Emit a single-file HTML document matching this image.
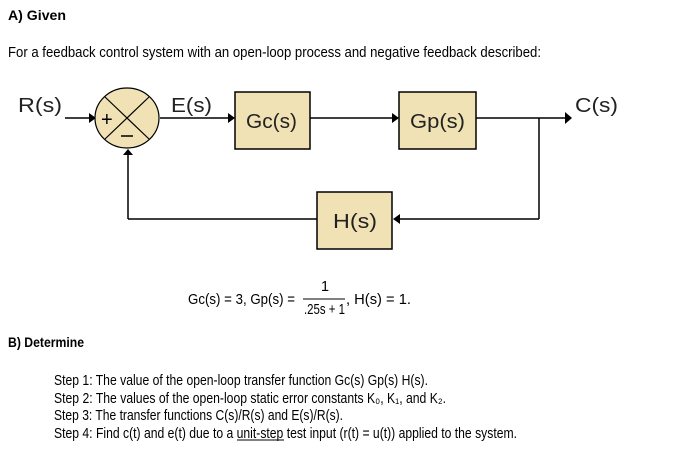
<!DOCTYPE html>
<html><head><meta charset="utf-8"><style>
html,body{margin:0;padding:0;background:#fff;width:681px;height:457px;overflow:hidden}
svg{display:block}
</style></head><body>
<svg width="681" height="457" viewBox="0 0 681 457" xmlns="http://www.w3.org/2000/svg" font-family="Liberation Sans, Arial, sans-serif">
<text x="8" y="20" font-size="13.5" font-weight="bold" textLength="58" lengthAdjust="spacingAndGlyphs">A) Given</text>
<text x="8" y="57" font-size="14.5" textLength="533" lengthAdjust="spacingAndGlyphs">For a feedback control system with an open-loop process and negative feedback described:</text>

<g stroke="#000" stroke-width="1.5" fill="none">
<line x1="65" y1="118" x2="94" y2="118"/>
<line x1="160" y1="118" x2="233" y2="118"/>
<line x1="310" y1="118" x2="397" y2="118"/>
<line x1="476" y1="118" x2="566" y2="118"/>
<line x1="539" y1="118" x2="539" y2="219"/>
<line x1="539" y1="219" x2="396" y2="219"/>
<line x1="317" y1="219" x2="128" y2="219"/>
<line x1="128" y1="219" x2="128" y2="152"/>
</g>
<g fill="#000">
<polygon points="96,118 89,113 89,123"/>
<polygon points="235,118 228,113 228,123"/>
<polygon points="399,118 392,113 392,123"/>
<polygon points="572,118 565,112 565,124"/>
<polygon points="393,219 400,214 400,224"/>
<polygon points="128,149 123,155 133,155"/>
</g>
<ellipse cx="127" cy="118" rx="32" ry="30" fill="#f0e2b4" stroke="#000" stroke-width="1.2"/>
<line x1="105" y1="97" x2="149" y2="139" stroke="#000" stroke-width="1.2"/>
<line x1="149" y1="97" x2="105" y2="139" stroke="#000" stroke-width="1.2"/>
<text x="101" y="126" font-size="20">+</text>
<line x1="121" y1="136" x2="133" y2="136" stroke="#000" stroke-width="1.5"/>

<rect x="235" y="92" width="75" height="57" fill="#f0e2b4" stroke="#000" stroke-width="1.5"/>
<rect x="399" y="92" width="77" height="57" fill="#f0e2b4" stroke="#000" stroke-width="1.5"/>
<rect x="317" y="192" width="75" height="57" fill="#f0e2b4" stroke="#000" stroke-width="1.5"/>
<g font-size="20" fill="#222">
<text x="18" y="112" textLength="44" lengthAdjust="spacingAndGlyphs">R(s)</text>
<text x="171" y="112" textLength="41" lengthAdjust="spacingAndGlyphs">E(s)</text>
<text x="575" y="112" textLength="43" lengthAdjust="spacingAndGlyphs">C(s)</text>
<text x="246" y="128" textLength="51" lengthAdjust="spacingAndGlyphs">Gc(s)</text>
<text x="410" y="128" textLength="55" lengthAdjust="spacingAndGlyphs">Gp(s)</text>
<text x="333" y="228" textLength="44" lengthAdjust="spacingAndGlyphs">H(s)</text>
</g>

<g font-size="14.5">
<text x="188" y="304" textLength="107" lengthAdjust="spacingAndGlyphs">Gc(s) = 3,  Gp(s) =</text>
<text x="321" y="291">1</text>
<line x1="303" y1="299" x2="345" y2="299" stroke="#000" stroke-width="1"/>
<text x="304" y="314" textLength="41" lengthAdjust="spacingAndGlyphs">.25s + 1</text>
<text x="346" y="304" textLength="65" lengthAdjust="spacingAndGlyphs">,  H(s) = 1.</text>
</g>
<text x="8" y="347" font-size="13.5" font-weight="bold" textLength="76" lengthAdjust="spacingAndGlyphs">B) Determine</text>
<g font-size="14.5">
<text x="54" y="385" textLength="374" lengthAdjust="spacingAndGlyphs">Step 1: The value of the open-loop transfer function Gc(s) Gp(s) H(s).</text>
<text x="54" y="403" textLength="392" lengthAdjust="spacingAndGlyphs">Step 2: The values of the open-loop static error constants K₀, K₁, and K₂.</text>
<text x="54" y="420" textLength="289" lengthAdjust="spacingAndGlyphs">Step 3: The transfer functions C(s)/R(s) and E(s)/R(s).</text>
<text x="54" y="438" textLength="463" lengthAdjust="spacingAndGlyphs">Step 4: Find c(t) and e(t) due to a unit-step test input (r(t) = u(t)) applied to the system.</text>
</g>
<line x1="237" y1="440" x2="284" y2="440" stroke="#000" stroke-width="1"/>
</svg>
</body></html>
